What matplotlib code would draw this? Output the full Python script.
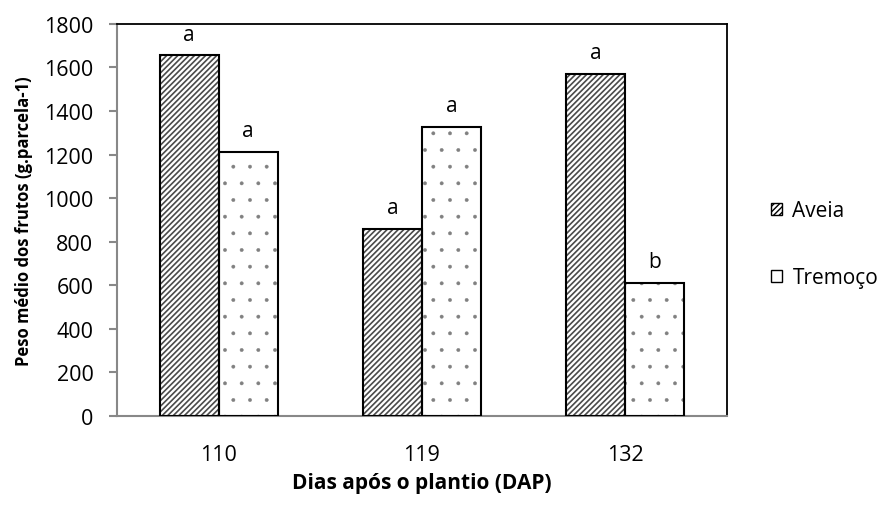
import numpy as np
import matplotlib
matplotlib.use("Agg")
import matplotlib.pyplot as plt
from matplotlib.patches import Patch

# data
dias = ["110", "119", "132"]
aveia = [1655, 860, 1572]
tremoco = [1212, 1328, 612]
letras_aveia = ["a", "a", "a"]
letras_tremoco = ["a", "a", "b"]

plt.rcParams['font.family'] = ['Open Sans', 'DejaVu Sans']

fig = plt.figure(figsize=(8.89, 5.06), dpi=100)
ax = fig.add_axes([0.1316, 0.1759, 0.686, 0.775])

x = np.arange(len(dias))
w = 0.29

#hatch first (gray), then black outline on top
with plt.rc_context({'hatch.linewidth': 1.2}):
    ax.bar(x - w/2, aveia, w, color='white', edgecolor='#4a4a4a', hatch='//////', linewidth=0, zorder=2)
with plt.rc_context({'hatch.linewidth': 0.3}):
    ax.bar(x + w/2, tremoco, w, color='white', edgecolor='#808080', hatch='.', linewidth=0, zorder=2)
ax.bar(x - w/2, aveia, w, fill=False, edgecolor='black', linewidth=1.5, zorder=3)
ax.bar(x + w/2, tremoco, w, fill=False, edgecolor='black', linewidth=1.5, zorder=3)

#letters above bars
for i in range(len(dias)):
    ax.text(x[i] - w/2, aveia[i] + 50, letras_aveia[i], ha='center', va='bottom', fontsize=15)
    ax.text(x[i] + w/2, tremoco[i] + 50, letras_tremoco[i], ha='center', va='bottom', fontsize=15)

ax.set_xlim(-0.5, 2.5)
ax.set_ylim(0, 1800)
ax.set_yticks(range(0, 1801, 200))
ax.set_xticks(x)
ax.set_xticklabels(dias)
ax.tick_params(axis='y', labelsize=15.5, color='#888888', length=6, width=1.5, pad=11)
ax.tick_params(axis='x', labelsize=15.5, length=0, pad=20)

ax.spines['left'].set_color('#888888')
ax.spines['bottom'].set_color('#888888')
ax.spines['left'].set_linewidth(1.5)
ax.spines['bottom'].set_linewidth(1.5)
ax.spines['top'].set_linewidth(1.3)
ax.spines['right'].set_linewidth(1.3)

ax.set_xlabel("Dias após o plantio (DAP)", fontsize=15, fontweight='bold', labelpad=5)
ax.set_ylabel("Peso médio dos frutos (g.parcela-1)", fontsize=12, fontweight='bold', labelpad=8)

with plt.rc_context({'hatch.linewidth': 1.0}):
    handles = [Patch(facecolor='white', edgecolor='black', hatch='//////', label='Aveia'),
               Patch(facecolor='white', edgecolor='black', hatch='', label='Tremoço')]
    fig.legend(handles=handles, loc='center left', bbox_to_anchor=(0.855, 0.515), frameon=False,
               borderpad=0, fontsize=15, handlelength=0.55, handleheight=0.55, handletextpad=0.5,
               labelspacing=2.2)

fig.savefig("out.png", dpi=100)
